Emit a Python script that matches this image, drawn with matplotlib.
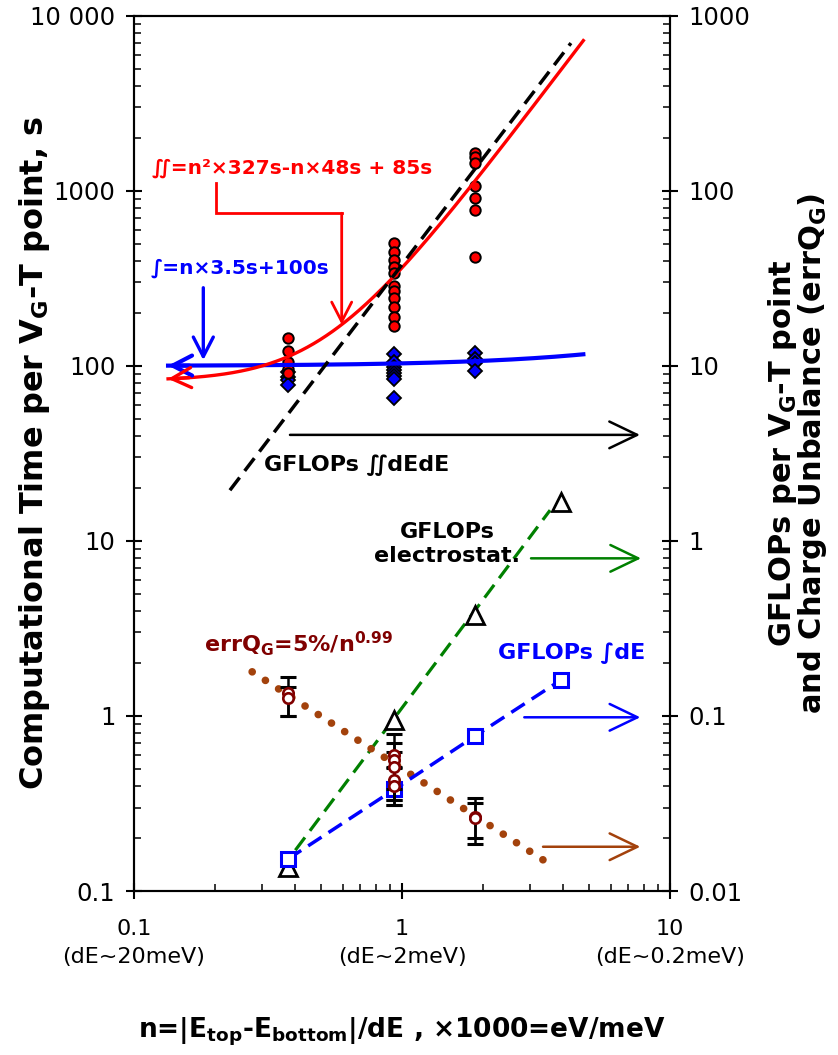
import numpy as np
import matplotlib
matplotlib.use("Agg")
import matplotlib.pyplot as plt

plt.rcParams["font.family"] = ["DejaVu Sans", "Noto Sans"]
plt.rcParams["mathtext.default"] = "bf"

# ---------------- data ----------------
# energy-grid density n at which the timings were measured
n_cols = [0.375, 0.9375, 1.875]

# computational time of the double integral (red) per column, s
t_dd_col1 = [144, 122, 106, 96, 91]
t_dd_col2 = [502, 446, 403, 369, 339, 286, 269, 244, 216, 190, 169]
t_dd_col3 = [1656, 1570, 1439, 1068, 908, 779, 421]

# computational time of the single integral (blue) per column, s
t_d_col1 = [92, 87, 83, 78]
t_d_col2 = [117, 106, 99, 95, 91.5, 88, 84, 65.4]
t_d_col3 = [119, 110, 104, 94]

# fit coefficients: a*n^2 + b*n + c  and  a*n + b
dd_coef = (327.0, -48.0, 85.0)
d_coef = (3.5, 100.0)
fit_n_range = (0.134, 4.75)

# GFLOPs (right axis)
n_flop = [0.375, 0.9375, 1.875, 3.93]
gflops_estat = [0.0138, 0.0948, 0.378, 1.68]
gflops_d = [0.0152, 0.0381, 0.0769, 0.161]
estat_fit_n = [0.40, 3.57]
estat_fit_val = [0.0171, 1.50]
dd_flops_n = [0.228, 4.27]
dd_flops_val = [1.95, 700.0]

# charge unbalance errQ_G (right axis) with error bars
errq_n = [0.375, 0.375, 0.9375, 0.9375, 0.9375, 0.9375, 0.9375, 1.875, 1.875]
errq = [0.135, 0.126, 0.0599, 0.0561, 0.0513, 0.0431, 0.0398, 0.0266, 0.0262]
errq_hi = [0.166, 0.147, 0.0786, 0.0700, 0.0621, 0.0505, 0.0513, 0.0339, 0.0317]
errq_lo = [0.100, 0.100, 0.0331, 0.0310, 0.0383, 0.0331, 0.0310, 0.0200, 0.0186]
errq_fit = (0.05, 0.99)          # 5% / n^0.99
errq_fit_n_range = (0.276, 3.68)

x_ticks = [0.1, 1, 10]
x_ticklabels = ["0.1\n(dE~20meV)", "1\n(dE~2meV)", "10\n(dE~0.2meV)"]
y_ticks = [0.1, 1, 10, 100, 1000, 10000]
y_ticklabels = ["0.1", "1", "10", "100", "1000", "10 000"]
y2_ticks = [0.01, 0.1, 1, 10, 100, 1000]
y2_ticklabels = ["0.01", "0.1", "1", "10", "100", "1000"]

RED = "#FF0000"
BLUE = "#0000FF"
GREEN = "#008000"
BROWN = "#A3420C"
MAROON = "#800000"


def dd_fit(n):
    a, b, c = dd_coef
    return a * n ** 2 + b * n + c


def d_fit(n):
    a, b = d_coef
    return a * n + b


# ---------------- figure ----------------
fig = plt.figure(figsize=(8.38, 10.55), dpi=100)
ax = fig.add_axes([0.1599, 0.15545, 0.6396, 0.8294])
ax.set_xscale("log")
ax.set_yscale("log")
ax.set_xlim(0.1, 10)
ax.set_ylim(0.1, 10000)

ax2 = ax.twinx()
ax2.set_yscale("log")
ax2.set_ylim(0.01, 1000)

# timing points
for n, vals in zip(n_cols, [t_d_col1, t_d_col2, t_d_col3]):
    ax.plot([n] * len(vals), vals, "D", ms=7, mfc=BLUE, mec="black", mew=1.3, zorder=3)
for n, vals in zip(n_cols, [t_dd_col1, t_dd_col2, t_dd_col3]):
    ax.plot([n] * len(vals), vals, "o", ms=7.5, mfc=RED, mec="black", mew=1.4, zorder=3)

# fitted timing curves
n_fit = np.geomspace(fit_n_range[0], fit_n_range[1], 400)
ax.plot(n_fit, d_fit(n_fit), color=BLUE, lw=3.0, zorder=4)
ax.plot(n_fit, dd_fit(n_fit), color=RED, lw=2.4, zorder=4)

head_small = dict(arrowstyle="->,head_length=0.7,head_width=0.36", mutation_scale=20,
                  shrinkA=0, shrinkB=0)
n0 = fit_n_range[0]
ax.annotate("", xy=(n0, d_fit(n0)), xytext=(n0 * 1.2, d_fit(n0 * 1.2)),
            arrowprops=dict(color=BLUE, lw=3.0, **head_small), zorder=5)
ax.annotate("", xy=(n0, dd_fit(n0)), xytext=(n0 * 1.2, dd_fit(n0 * 1.2)),
            arrowprops=dict(color=RED, lw=2.4, **head_small), zorder=5)

# formula labels with leader arrows
ax.text(0.1167, 1349, "∬=n²×327s-n×48s + 85s", color=RED, fontsize=14.5,
        fontweight="bold", ha="left", va="center")
lead_x0, lead_x1 = 0.2023, 0.5957
lead_y0, lead_y1 = 1107, 746
ax.plot([lead_x0, lead_x0, lead_x1], [lead_y0, lead_y1, lead_y1], color=RED, lw=2.0,
        solid_joinstyle="miter")
ax.annotate("", xy=(lead_x1, dd_fit(lead_x1)), xytext=(lead_x1, lead_y1),
            arrowprops=dict(color=RED, lw=2.0, **head_small))

ax.text(0.1155, 361, "∫=n×3.5s+100s", color=BLUE, fontsize=14.5,
        fontweight="bold", ha="left", va="center")
ax.annotate("", xy=(0.1814, 108), xytext=(0.1814, 280),
            arrowprops=dict(color=BLUE, lw=2.4, **head_small))

# GFLOPs and charge unbalance on the right axis
ax2.plot(dd_flops_n, dd_flops_val, color="black", lw=2.5, dashes=(4.6, 2.4), zorder=3)
ax2.plot(estat_fit_n, estat_fit_val, color=GREEN, lw=2.3, dashes=(5.0, 2.6), zorder=3)
ax2.plot(n_flop, gflops_estat, "^", ms=13, mfc="white", mec="black", mew=2.0, zorder=4)
ax2.plot(n_flop, gflops_d, color=BLUE, lw=2.5, dashes=(4.6, 2.4), marker="s", ms=9.5,
         mfc="white", mec=BLUE, mew=2.2, zorder=5)

nq = np.geomspace(errq_fit_n_range[0], errq_fit_n_range[1], 400)
ax2.plot(nq, errq_fit[0] / nq ** errq_fit[1], color=BROWN, lw=5.5,
         dashes=(0.01, 2.05), dash_capstyle="round", zorder=3)

errq_arr = np.array(errq)
yerr = [errq_arr - np.array(errq_lo), np.array(errq_hi) - errq_arr]
ax2.errorbar(errq_n, errq, yerr=yerr, fmt="none", ecolor="black", elinewidth=1.8,
             capsize=6, capthick=2.2, zorder=5)
ax2.plot(errq_n, errq, "o", ms=7.5, mfc="white", mec=MAROON, mew=1.9, zorder=6)

ax2.text(0.306, 2.72, "GFLOPs ∬dEdE", fontsize=16, fontweight="bold",
         ha="left", va="center")
ax2.text(1.472, 0.961, "GFLOPs\nelectrostat.", fontsize=16, fontweight="bold",
         ha="center", va="center", multialignment="center")
ax2.text(0.1825, 0.232, r"errQ$_{G}$=5%/n$^{0.99}$", fontsize=16, fontweight="bold",
         color=MAROON, ha="left", va="baseline")
ax2.text(2.29, 0.228, "GFLOPs ∫dE", fontsize=16, fontweight="bold", color=BLUE,
         ha="left", va="center")

# arrows pointing to the right-hand axis
head_big = dict(arrowstyle="->,head_length=1.0,head_width=0.48", mutation_scale=20,
                shrinkA=0, shrinkB=0, lw=1.8)
for (x0, x1, yv, col) in [(0.382, 7.73, 4.04, "black"),
                          (3.03, 7.8, 0.796, GREEN),
                          (2.86, 7.75, 0.0983, BLUE),
                          (3.36, 7.75, 0.0179, BROWN)]:
    ax2.annotate("", xy=(x1, yv), xytext=(x0, yv), arrowprops=dict(color=col, **head_big))

# ---------------- axes styling ----------------
for a in (ax, ax2):
    for s in a.spines.values():
        s.set_linewidth(1.5)

ax.set_xticks(x_ticks)
ax.set_xticklabels(x_ticklabels, fontsize=16, linespacing=1.5)
ax.set_yticks(y_ticks)
ax.set_yticklabels(y_ticklabels, fontsize=17.5)
ax2.set_yticks(y2_ticks)
ax2.set_yticklabels(y2_ticklabels, fontsize=17.5)

ax.tick_params(which="major", direction="inout", length=12, width=1.5,
               top=False, right=False)
ax.tick_params(which="minor", direction="in", length=5, width=1.1, top=False, right=False)
ax.tick_params(axis="y", which="major", pad=7.5)
ax.tick_params(axis="x", which="major", pad=14)
ax2.tick_params(which="major", direction="inout", length=12, width=1.5, pad=7.5)
ax2.tick_params(which="minor", direction="in", length=5, width=1.1)

ax.set_ylabel("Computational Time per V$_{G}$-T point, s", fontsize=23,
              fontweight="bold", va="center")
ax.yaxis.set_label_coords(-0.1847, 0.5)
ax2.set_ylabel("GFLOPs per V$_{G}$-T point\nand Charge Unbalance (errQ$_{G}$)",
               fontsize=22, fontweight="bold", va="center", rotation=90,
               multialignment="center", linespacing=0.85)
ax2.yaxis.set_label_coords(1.2379, 0.5)
ax.set_xlabel("n=|E$_{top}$-E$_{bottom}$|/dE , ×1000=eV/meV", fontsize=19,
              fontweight="bold", va="center")
ax.xaxis.set_label_coords(0.5, -0.1608)

fig.savefig("out.png", dpi=100, facecolor="white")
